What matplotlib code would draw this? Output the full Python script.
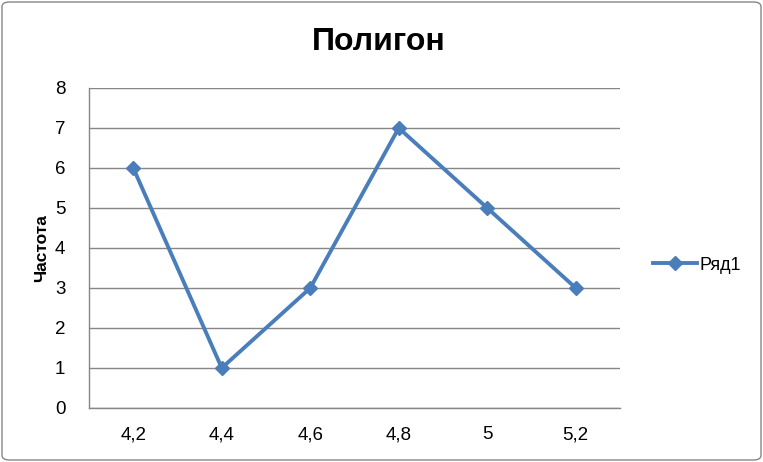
import matplotlib
matplotlib.use("Agg")
import matplotlib.pyplot as plt
from matplotlib.patches import FancyBboxPatch

categories = ["4,2", "4,4", "4,6", "4,8", "5", "5,2"]
values = [6, 1, 3, 7, 5, 3]
yticks = [0, 1, 2, 3, 4, 5, 6, 7, 8]
series_name = "Ряд1"

plt.rcParams['font.family'] = ['Liberation Sans', 'DejaVu Sans']

fig = plt.figure(figsize=(7.63, 4.62), dpi=100)
ax = fig.add_axes([89/763, 1-408/462, 531/763, 320/462])

line_color = "#4A7EBB"
x = list(range(len(categories)))
ax.plot(x, values, color=line_color, linewidth=2.8, marker="D", markersize=7,
        markerfacecolor=line_color, markeredgecolor=line_color, label=series_name)

ax.set_xlim(-0.5, len(categories) - 0.5)
ax.set_ylim(0, 8)
ax.set_yticks(yticks)
ax.set_yticklabels([str(v) for v in yticks])
ax.set_xticks(x)
ax.set_xticklabels(categories)
ax.tick_params(axis='both', length=0, labelsize=13.5, colors="black")
ax.tick_params(axis='x', pad=13)
ax.tick_params(axis='y', pad=17)
ax.grid(axis='y', color="#868686", linewidth=1)
ax.set_axisbelow(True)
for s in ["top", "right"]:
    ax.spines[s].set_visible(False)
for s in ["left", "bottom"]:
    ax.spines[s].set_color("#868686")
    ax.spines[s].set_linewidth(1)

fig.text(379/763, 1-42/462, "Полигон", ha="center", va="center",
         fontsize=23, fontweight="bold")
fig.text(42/763, 1-248/462, "Частота", ha="center", va="center",
         rotation=90, fontsize=12.5, fontweight="bold")

leg = ax.legend(loc="center left", bbox_to_anchor=(637/763, 1-265/462),
                bbox_transform=fig.transFigure, frameon=False, fontsize=13,
                handlelength=2.4, handletextpad=0.15)

border = FancyBboxPatch((2/763, 2/462), 759/763, 458/462,
                        boxstyle="round,pad=0,rounding_size=0.01",
                        transform=fig.transFigure, fill=False,
                        edgecolor="#868686", linewidth=1)
fig.patches.append(border)

fig.savefig("out.png", dpi=100)
